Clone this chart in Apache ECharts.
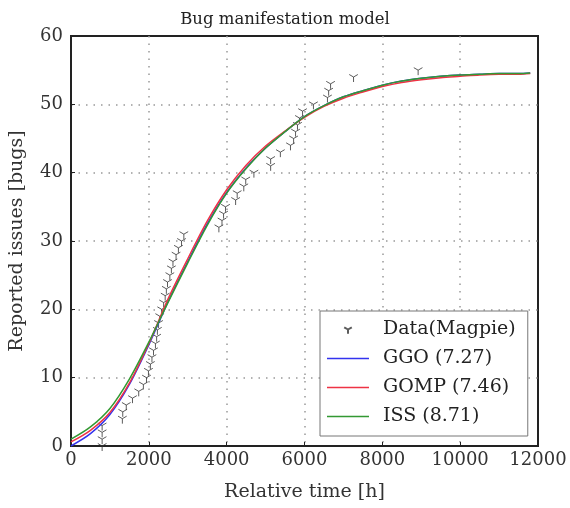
<!DOCTYPE html>
<html>
<head>
<meta charset="utf-8">
<script src="https://cdn.jsdelivr.net/npm/echarts@6/dist/echarts.min.js"></script>
<style>
html,body{margin:0;padding:0;background:#fff;}
#chart{width:570px;height:508px;}
</style>
</head>
<body>
<div id="chart"></div>
<script>
// Observed data (Magpie): relative time [h] and cumulative reported issues
const dataTime = [800, 800, 800, 800, 1320, 1330, 1420, 1580, 1740, 1860, 1940, 1990, 2040, 2080, 2120, 2170,
  2200, 2220, 2250, 2280, 2330, 2380, 2420, 2450, 2480, 2540, 2580, 2620, 2700, 2760, 2840, 2900,
  3800, 3880, 3920, 3970, 4230, 4270, 4440, 4490, 4700, 5130, 5130, 5380, 5640, 5720, 5770, 5820,
  5870, 5950, 6230, 6590, 6620, 6670, 7260, 8920];
const dataIssues = [0, 1, 2, 3, 4, 5, 6, 7, 8, 9, 10, 11, 12, 13, 14, 15,
  16, 17, 18, 19, 20, 21, 22, 23, 24, 25, 26, 27, 28, 29, 30, 31,
  32, 33, 34, 35, 36, 37, 38, 39, 40, 41, 42, 43, 44, 45, 46, 47,
  48, 49, 50, 51, 52, 53, 54, 55];

// Model curves, values
const modelTime = [0, 500, 1000, 1500, 2000, 2500, 3000, 3500, 4000, 4500, 5000, 5500, 6000, 6500, 7000, 7500, 8000, 8500, 9000, 9500, 10000, 10500, 11000, 11500, 11800];
const ggo  = [0.0, 1.8, 4.6, 9.0, 14.8, 21.2, 27.0, 32.5, 37.1, 40.7, 43.6, 46.0, 48.2, 49.8, 51.1, 52.0, 52.8, 53.4, 53.8, 54.1, 54.3, 54.4, 54.5, 54.5, 54.6];
const gomp = [0.6, 2.3, 4.9, 9.2, 15.0, 21.6, 27.4, 32.9, 37.5, 41.1, 43.9, 46.1, 48.1, 49.7, 50.9, 51.8, 52.6, 53.2, 53.6, 53.9, 54.1, 54.3, 54.4, 54.4, 54.5];
const iss  = [1.0, 2.8, 5.5, 9.8, 15.2, 21.1, 26.8, 32.3, 37.0, 40.6, 43.6, 46.0, 48.2, 49.8, 51.1, 52.0, 52.8, 53.4, 53.8, 54.1, 54.3, 54.4, 54.5, 54.5, 54.6];

const seriesNames = ['Data(Magpie)', 'GGO (7.27)', 'GOMP (7.46)', 'ISS (8.71)'];
const xTicks = [0, 2000, 4000, 6000, 8000, 10000, 12000];
const yTicks = [0, 10, 20, 30, 40, 50, 60];

const FONT = 'DejaVu Serif';
const triDown = 'path://M10,10 L10,20 M10,10 L1.34,5 M10,10 L18.66,5 M10,0 L10,0.01';
const triDownSmall = 'path://M10,10 L10,20 M10,10 L1.34,5 M10,10 L18.66,5 M-8,-6 L-8,-6.01 M28,26 L28,26.01';
const lineIcon = 'path://M0,0 L42,0 L42,1.6 L0,1.6 Z';

const zip = (a, b) => a.map((v, i) => [v, b[i]]);

const chart = echarts.init(document.getElementById('chart'), null, {renderer: 'canvas'});
chart.setOption({
  backgroundColor: '#fff',
  animation: false,
  title: {
    text: 'Bug manifestation model',
    left: 'center', top: 6,
    textStyle: {fontFamily: FONT, fontSize: 16.5, fontWeight: 'normal', color: '#222'}
  },
  grid: {left: 70, right: 32, top: 36, bottom: 62, show: true, borderColor: '#222', borderWidth: 2, backgroundColor: '#fff'},
  xAxis: {
    type: 'value', min: xTicks[0], max: xTicks[xTicks.length - 1], interval: 2000,
    name: 'Relative time [h]', nameLocation: 'middle', nameGap: 37,
    nameTextStyle: {fontFamily: FONT, fontSize: 19, color: '#333'},
    axisLine: {show: true, lineStyle: {color: '#222', width: 2}},
    axisTick: {show: true, inside: true, length: 4, lineStyle: {color: '#222'}},
    axisLabel: {fontFamily: FONT, fontSize: 18, color: '#333', margin: 5, formatter: v => String(v)},
    splitLine: {show: true, showMinLine: false, showMaxLine: false, lineStyle: {color: '#999', type: [1.5, 6], width: 1.5}}
  },
  yAxis: {
    type: 'value', min: yTicks[0], max: yTicks[yTicks.length - 1], interval: 10,
    name: 'Reported issues [bugs]', nameLocation: 'middle', nameGap: 44,
    nameTextStyle: {fontFamily: FONT, fontSize: 19, color: '#333'},
    axisLine: {show: true, lineStyle: {color: '#222', width: 2}},
    axisTick: {show: true, inside: true, length: 4, lineStyle: {color: '#222'}},
    axisLabel: {fontFamily: FONT, fontSize: 18, color: '#333', margin: 8, formatter: v => String(v)},
    splitLine: {show: true, showMinLine: false, showMaxLine: false, lineStyle: {color: '#999', type: [1.5, 6], width: 1.5}}
  },
  legend: {
    orient: 'vertical', left: 320, top: 311,
    backgroundColor: '#fff', borderColor: '#777', borderWidth: 1, borderRadius: 0,
    padding: [9, 12, 10, 7],
    itemWidth: 42, itemHeight: 14, itemGap: 10,
    textStyle: {fontFamily: FONT, fontSize: 19, color: '#222', padding: [0, 0, 0, 9]},
    data: [
      {name: seriesNames[0], icon: triDownSmall},
      {name: seriesNames[1], icon: lineIcon},
      {name: seriesNames[2], icon: lineIcon},
      {name: seriesNames[3], icon: lineIcon}
    ]
  },
  series: [
    {
      name: seriesNames[0], type: 'scatter', data: zip(dataTime, dataIssues),
      symbol: triDown, symbolSize: 10, symbolKeepAspect: true,
      itemStyle: {color: 'rgba(0,0,0,0)', borderColor: '#333', borderWidth: 1}, z: 3
    },
    {name: seriesNames[1], type: 'line', data: zip(modelTime, ggo), smooth: 0.3, symbol: 'none',
      lineStyle: {color: '#3333ee', width: 1.5}, itemStyle: {color: '#3333ee'}, z: 4},
    {name: seriesNames[2], type: 'line', data: zip(modelTime, gomp), smooth: 0.3, symbol: 'none',
      lineStyle: {color: '#ee3344', width: 1.5}, itemStyle: {color: '#ee3344'}, z: 4},
    {name: seriesNames[3], type: 'line', data: zip(modelTime, iss), smooth: 0.3, symbol: 'none',
      lineStyle: {color: '#339933', width: 1.5}, itemStyle: {color: '#339933'}, z: 4}
  ]
});
</script>
</body>
</html>
